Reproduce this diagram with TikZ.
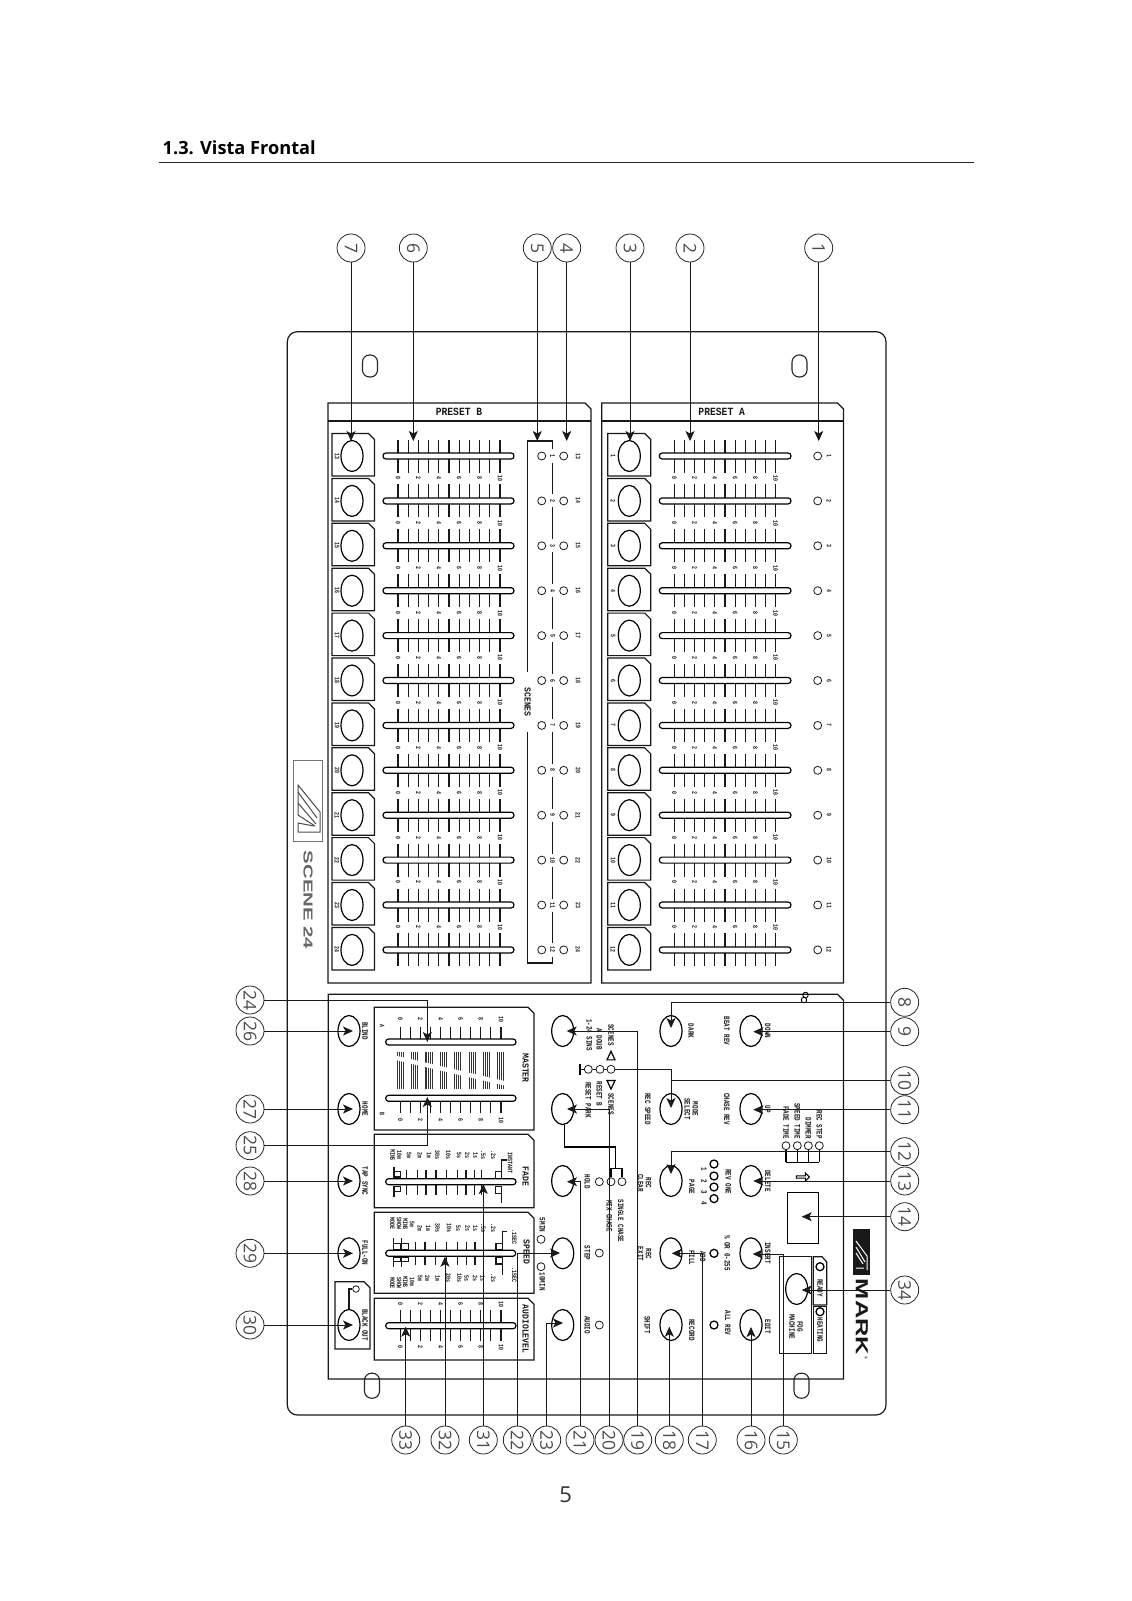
\documentclass[tikz,border=0pt]{standalone}
\usepackage{fontspec}
\usepackage{graphicx}
\usetikzlibrary{arrows.meta,shapes.geometric,shapes.arrows}
\setmainfont{Open Sans}
\newfontfamily\pf[FakeStretch=0.72]{Liberation Mono}
\newfontfamily\pfw[FakeStretch=0.88]{Liberation Mono}
\newfontfamily\numf{Open Sans}
\newfontfamily\logof{Liberation Sans}
\newcount\labcnt
\tikzset{
  lbl/.style={font=\pf\bfseries\fontsize{8.2}{8}\selectfont,rotate=-90,inner sep=0pt,align=center,text=black!90},
  tiny/.style={font=\pf\bfseries\fontsize{6.8}{6.6}\selectfont,rotate=-90,inner sep=0pt,align=center,text=black!90},
  hdr/.style={font=\pfw\bfseries\fontsize{9.2}{9}\selectfont,rotate=-90,inner sep=0pt,text=black!90},
  ttl/.style={font=\pfw\bfseries\fontsize{11}{11}\selectfont,inner sep=0pt,text=black!90},
  cnum/.style={circle,draw=black!85,line width=.8pt,minimum size=28pt,inner sep=0pt,font=\numf\fontsize{17.5}{17.5}\selectfont,text=black!70},
  btn/.style={ellipse,draw=black,line width=1.2pt,minimum width=22pt,minimum height=31pt,inner sep=0pt},
  led/.style={circle,draw=black!90,line width=.8pt,minimum size=8pt,inner sep=0pt},
  ledb/.style={circle,draw=black,line width=1.3pt,minimum size=8pt,inner sep=0pt},
  box/.style={draw=black!90,line width=1.2pt},
  ln/.style={draw=black!90,line width=1.1pt},
  conn/.style={draw=black!90,line width=.9pt,-{Stealth[length=10pt,width=9pt,inset=2.5pt]}},
}
\newcommand\lab[4][lbl]{\global\advance\labcnt by 1 \node[#1] (lab\the\labcnt) at (#2,#3) {#4};}
\newcommand\cutbox[5][box]{\draw[#1] (#2,#3) -- ({#4-6},#3) -- (#4,{#3+6}) -- (#4,#5) -- (#2,#5) -- cycle;}
\newcommand\slot[3]{\draw[draw=black,fill=white,line width=1.2pt,rounded corners=2.9pt] (#1,{#3-3}) rectangle (#2,{#3+3});}
\newcommand\slothole[3]{\draw[draw=black!85,line width=1.1pt,rounded corners=7pt] ({#1-7.5},{#2-#3}) rectangle ({#1+7.5},{#2+#3});}
\newcommand\crn[1]{\rotatebox{-90}{#1}}
\begin{document}
\begin{tikzpicture}[x=1pt,y=-1pt]
\useasboundingbox (0,0) rectangle (1132,1601);
\fill[white] (0,0) rectangle (1132,1601);
% heading
\node[anchor=base west,inner sep=0pt,font=\fontsize{18.2}{18.2}\selectfont\bfseries] (title) at (162.5,154) {1.3. Vista Frontal};
\draw[line width=1pt,black!85] (159,162.3) -- (974,162.3);
\node[inner sep=0pt,font=\fontsize{22}{22}\selectfont,text=black!80] (pageno) at (565.7,1495) {5};
% outer panel
\draw[box,rounded corners=10pt] (287.3,331.7) rectangle (886,1415);
\slothole{370}{366}{11}
\slothole{799.5}{366}{11}
\slothole{372}{1385.7}{12.5}
\slothole{801.5}{1385.7}{12.5}
% preset frames
\cutbox{328}{403}{591}{983}
\draw[box] (328,421) -- (591,421);
\cutbox{601.7}{403}{843.5}{983}
\draw[box] (601.7,421) -- (843.5,421);
\node[ttl] (presetb) at (459,412) {PRESET B};
\node[ttl] (preseta) at (721.7,412) {PRESET A};
% channel rows
\foreach \i in {1,...,12}{
  \pgfmathsetmacro{\y}{456+(\i-1)*44.9}
  \pgfmathtruncatemacro{\bn}{\i+12}
  % preset B
  \cutbox{332}{\y-22.5}{374.5}{\y+20}
  \node[btn] (bb\i) at (352,\y) {};
  \lab[tiny]{337}{\y}{\bn}
  % preset A
  \cutbox{607.7}{\y-22.5}{650.7}{\y+20}
  \node[btn] (ab\i) at (629.3,\y) {};
  \lab[tiny]{613}{\y}{\i}
  \foreach \t in {0,...,10}{
    \draw[ln] ({398+\t*10.2},{\y-16.5}) -- ({398+\t*10.2},{\y+16.5});
    \draw[ln] ({674.3+\t*10.14},{\y-16.5}) -- ({674.3+\t*10.14},{\y+16.5});
  }
  \slot{383}{514}{\y}
  \slot{659.3}{791}{\y}
  \ifnum\i<12
    \foreach \t in {0,2,4,6,8,10}{
      \lab[tiny]{398+\t*10.2}{\y+22.3}{\t}
      \lab[tiny]{674.3+\t*10.14}{\y+22.3}{\t}
    }
    \draw[ln] (552.7,{\y+6.5}) -- (552.7,{\y+38.4});
  \fi
  \node[led] (lb\i) at (541.7,\y) {};
  \node[led] (lc\i) at (563.7,\y) {};
  \node[led] (la\i) at (817.7,\y) {};
  \lab[tiny]{552.7}{\y}{\i}
  \lab[tiny]{578}{\y}{\bn}
  \lab[tiny]{829}{\y}{\i}
}
% scenes bracket
\draw[ln] (552.7,449) -- (552.7,441) -- (527.7,441) -- (527.7,672);
\draw[ln] (527.7,732) -- (527.7,963) -- (552.7,963) -- (552.7,956.5);
\lab[hdr]{527.7}{702}{SCENES}
% scene logo
\draw[line width=.8pt,black!55] (293.3,760) rectangle (322.7,841);
\draw[line width=1pt,black!70] (298,800) -- (298,785) -- (320,812) -- (320,832) -- (298,832) -- (298,823) -- (314,826);
\draw[line width=1pt,black!70] (298,792) -- (317,818) (298,800) -- (298,815) -- (315,826) (298,803) -- (316,824);
\node[rotate=-90,inner sep=0pt,font=\logof\bfseries\fontsize{13}{13}\selectfont,text=black!60] (scenelogo) at (308,900) {\scalebox{1.57}[1]{SCENE 24}};
% lower panel
\cutbox{328.3}{994.3}{843.5}{1379}
\node[circle,draw=black,line width=.9pt,minimum size=5.5pt,inner sep=0pt] (hole1) at (805.5,995) {};
\node[circle,draw=black,line width=.9pt,minimum size=5.5pt,inner sep=0pt] (hole2) at (804,1000) {};
% master
\cutbox{374.3}{1007.3}{534}{1130}
\foreach \t in {0,...,10}{
  \draw[ln] ({400.3+\t*10.07},1026.7) -- ({400.3+\t*10.07},1042);
  \draw[ln] ({400.3+\t*10.07},1098) -- ({400.3+\t*10.07},1113);
  \draw[ln] ({400.3+\t*10.07},1310) -- ({400.3+\t*10.07},1340.7);
}
\foreach \t in {0,2,4,6,8,10}{
  \lab[tiny]{400.3+\t*10.07}{1019.3}{\t}
  \lab[tiny]{400.3+\t*10.07}{1120}{\t}
  \lab[tiny]{400.3+\t*10.07}{1304}{\t}
  \lab[tiny]{400.3+\t*10.07}{1347.3}{\t}
}
\foreach \g in {0,...,7}{
  \foreach \s in {0,1,2,3}{
    \draw[line width=1.05pt,black!80] ({397.3+\g*14.35+\s*2.05},1052) -- ({397.3+\g*14.35+\s*2.05},1088.7);
  }
}
\draw[line width=4.4pt,white] (392,1057) -- (509,1084.3);
\slot{385.7}{516}{1042}
\slot{385.7}{516}{1098.3}
\lab[tiny]{382}{1025.7}{A}
\lab[tiny]{382}{1114}{B}
\lab[hdr]{525.7}{1068}{MASTER}
% fade
\cutbox{374.3}{1134.3}{534}{1207.7}
\foreach \x in {406.7,417.7,426,436,446.7,457.7,466,474.3,481.7}{
  \draw[ln] (\x,1170) -- (\x,1195);
}
\draw[ln] (394,1166.7) -- (394,1177) -- (400.7,1177) -- (400.7,1171.7) -- (394,1171.7);
\draw[ln] (394,1197.3) -- (394,1186.7) -- (400.7,1186.7) -- (400.7,1191.7) -- (394,1191.7);
\draw[ln] (495.7,1178.3) -- (495.7,1171.7) -- (501.7,1171.7) -- (501.7,1178.3) -- cycle (501.7,1171.7) -- (501.7,1160) -- (506.7,1160);
\draw[ln] (495.7,1186.7) -- (495.7,1193.3) -- (501.7,1193.3) -- (501.7,1186.7) -- cycle (501.7,1193.3) -- (501.7,1202.7);
\slot{385.7}{516}{1181.7}
\lab[tiny]{396}{1155}{10m\\MINS}
\foreach \x/\t in {409/5m,420/2m,429/1m,437.3/30s,448.3/10s,459/5s,467.3/2s,475.7/1s,483.3/.5s,493.3/.2s}{
  \lab[tiny]{\x}{1155}{\t}
}
\lab[tiny]{510}{1162.7}{INSTANT}
\lab[hdr]{525.7}{1176.7}{FADE}
% speed
\cutbox{374.3}{1212.3}{534}{1293.3}
\foreach \x in {415.7,425,435.7,446.7,457.3,466.7,475,483.3}{
  \draw[ln] (\x,1241.7) -- (\x,1265);
}
\foreach \x in {393.3,401.7}{
  \draw[ln] (\x,1238.3) -- (\x,1250) -- ({\x+7},1250) -- ({\x+7},1243.3) -- (\x,1243.3);
  \draw[ln] (\x,1266.7) -- (\x,1257.3) -- ({\x+7},1257.3) -- ({\x+7},1261.7) -- (\x,1261.7);
}
\draw[ln] (496,1250) -- (496,1243.3) -- (502.7,1243.3) -- (502.7,1250) -- cycle (502.7,1243.3) -- (502.7,1231.7) -- (507.3,1231.7);
\draw[ln] (496,1257.3) -- (496,1264) -- (502.7,1264) -- (502.7,1257.3) -- cycle (502.7,1264) -- (502.7,1275);
\slot{385.7}{515.7}{1253.3}
\lab[tiny]{395.7}{1223.3}{SHOW\\MODE}
\lab[tiny]{408.7}{1224}{5m\\MINS}
\foreach \x/\t in {420/2m,428.3/1m,437.7/30s,449/10s,458.3/5s,467.7/2s,475.3/1s,483.3/.5s,493.3/.2s}{
  \lab[tiny]{\x}{1228}{\t}
}
\lab[tiny]{395.7}{1283}{SHOW\\MODE}
\lab[tiny]{408.7}{1282}{10m\\MINS}
\foreach \x/\t in {420/5m,427.3/2m,437.7/1m,448.3/20s,459.3/10s,466.7/5s,475/2s,482.7/1s,493.3/.2s}{
  \lab[tiny]{\x}{1278.3}{\t}
}
\lab[tiny]{514.3}{1236.7}{.1SEC}
\lab[tiny]{514.3}{1275}{.1SEC}
\lab[hdr]{526.7}{1252}{SPEED}
\lab[lbl]{542.3}{1225}{5MIN}
\lab[lbl]{542.3}{1281.7}{10MIN}
\node[led] (l5min) at (541,1239.3) {};
\node[led] (l10min) at (541,1266.7) {};
% audio
\cutbox{374.3}{1298.3}{534}{1360}
\slot{385.7}{516}{1325.7}
\lab[hdr]{525.7}{1329}{AUDIOLEVEL}
% blackout
\cutbox{335}{1281.7}{370}{1349}
\node[circle,draw=black!90,line width=.8pt,minimum size=6.6pt,inner sep=0pt] (lblack) at (356,1289) {};
% buttons
\foreach \n/\y in {blind/1031,home/1109,tap/1181,full/1253.3,black/1325}{
  \node[btn] (L\n) at (349,\y) {};
}
\foreach \n/\y in {a/1031,b/1109,c/1181,d/1253.3,e/1325}{
  \node[btn] (M\n) at (562.7,\y) {};
  \node[btn] (R\n) at (671,\y) {};
  \node[btn] (S\n) at (751,\y) {};
}
\draw[ln] (Lblack.north) -- (349,1289) -- (lblack.west);
\lab[lbl]{365}{1031}{BLIND}
\lab[lbl]{365}{1109}{HOME}
\lab[lbl]{365}{1181}{TAP SYNC}
\lab[lbl]{365}{1253}{FULL-ON}
\lab[lbl]{365}{1325}{BLACK OUT}
% middle labels
\lab[lbl]{611}{1035}{SCENES}
\lab[lbl]{599.3}{1039}{A DOUB}
\lab[lbl]{589.3}{1035}{1-24 SINS}
\lab[lbl]{611}{1104}{SCENES}
\lab[lbl]{599.3}{1094}{RESET B}
\lab[lbl]{588.3}{1100}{RESET PARK}
\node[isosceles triangle,isosceles triangle apex angle=50,shape border rotate=90,draw=black,line width=1.2pt,minimum size=8pt,inner sep=0pt] (triu) at (611,1057.3) {};
\node[isosceles triangle,isosceles triangle apex angle=50,shape border rotate=-90,draw=black,line width=1.2pt,minimum size=8pt,inner sep=0pt] (trid) at (611,1083) {};
\node[led] (tr1) at (588.3,1069.3) {};
\node[led] (tr2) at (600,1069.3) {};
\node[led] (tr3) at (611,1069.3) {};
\draw[ln] (tr1) -- (tr2) (tr2) -- (tr3);
\draw[line width=1.2pt] (tr1.west) -- (580,1069.3) (580,1064) -- (580,1074.5);
\lab[lbl]{587.3}{1181.7}{HOLD}
\lab[lbl]{587.3}{1253}{STEP}
\lab[lbl]{587.3}{1325}{AUDIO}
\node[led] (h1) at (599.3,1181.7) {};
\node[led] (h2) at (611,1181.7) {};
\node[led] (h3) at (622,1181.7) {};
\node[led] (st) at (599.3,1253) {};
\node[led] (au) at (599.3,1325) {};
\draw[line width=1.3pt] (Mb.south) ++(2,0) -- ++(0,22) -| (615.7,1168.3);
\draw[line width=1.3pt] (h2.north) |- (615.7,1168.3) -| (h3.north);
\lab[lbl]{620.7}{1221}{SINGLE CHASE}
\lab[lbl]{609.3}{1216}{MIX CHASE}
% right labels
\lab[lbl]{647.7}{1109}{REC SPEED}
\lab[lbl]{691}{1031}{DARK}
\lab[lbl]{726.7}{1031}{BEAT REV}
\lab[lbl]{691.3}{1109}{MODE\\SELECT}
\lab[lbl]{726.7}{1109}{CHASE REV}
\lab[lbl]{767.7}{1031}{DOWN}
\lab[lbl]{767.7}{1109}{UP}
\lab[lbl]{644.5}{1183}{REC\\CLEAR}
\lab[lbl]{691.7}{1187}{PAGE}
\foreach \y/\t/\k in {1164/1/1,1176/2/2,1187/3/3,1198.6/4/4}{
  \node[ledb] (pg\k) at (714,\y) {};
  \lab[lbl]{704}{\y+5}{\t}
}
\lab[lbl]{728.3}{1181.7}{REV ONE}
\lab[lbl]{767.7}{1181}{DELETE}
\lab[lbl]{644.5}{1254}{REC\\EXIT}
\lab[lbl]{691.7}{1258}{FILL}
\lab[lbl]{702.7}{1256.7}{ADD}
\node[ledb] (ladd) at (714,1253.3) {};
\lab[lbl]{727.3}{1253}{\% OR 0-255}
\lab[lbl]{767.7}{1253}{INSERT}
\lab[lbl]{647.3}{1325}{SHIFT}
\lab[lbl]{691.7}{1330}{RECORD}
\node[ledb] (lall) at (714,1325) {};
\lab[lbl]{727.7}{1323}{ALL REV}
\lab[lbl]{767.7}{1326.7}{EDIT}
% mode leds
\foreach \x/\t/\k in {786/FADE TIME/1,797.3/SPEED TIME/2,808.3/DIMMER/3,819.3/REC STEP/4}{
  \node[led] (md\k) at (\x,1145.7) {};
  \draw[line width=1.3pt] (md\k.south) -- (\x,1162.3);
  \node[lbl,anchor=east] (mdl\k) at (\x,1139) {\t};
}
\draw[line width=1.3pt] (786,1162.3) -- (819.3,1162.3);
\node[draw=black,line width=1.1pt,single arrow,single arrow head extend=1.5pt,single arrow tip angle=90,shape border rotate=-90,minimum width=8pt,minimum height=13pt,inner sep=0pt] (disparrow) at (802.3,1177) {};
% display
\draw[line width=1.5pt] (787.3,1192.3) rectangle (818.7,1243.3);
% fog machine
\draw[box] (779.3,1256.7) rectangle (811.7,1353.3);
\draw[box] (813.3,1256.7) -- (822,1256.7) -- (826.7,1262) -- (826.7,1305) -- (813.3,1305) -- cycle;
\draw[box] (813.3,1306.7) rectangle (826.7,1353.3);
\node[btn] (fog) at (796.7,1289) {};
\node[ledb] (lready) at (820,1266.7) {};
\node[ledb] (lheat) at (820,1311.7) {};
\lab[lbl]{820}{1288}{READY}
\lab[lbl]{820}{1330}{HEATING}
\lab[lbl]{796}{1326.7}{FOG\\MACHINE}
% mark logo
\fill[black!90] (853.3,1229.3) rectangle (870,1275);
\draw[white,line width=1pt] (856,1241) -- (867,1256) -- (867,1270) (856,1247) -- (865,1262) (856,1253) -- (863,1264) (856,1268) -- (864,1268);
\node[rotate=-90,inner sep=0pt,font=\logof\bfseries\fontsize{17.5}{17.5}\selectfont,text=black!90] (marklogo) at (862,1317) {\scalebox{1.45}[1]{MARK}};
\node[rotate=-90,inner sep=0pt,font=\logof\fontsize{4}{4}\selectfont] (markr) at (866,1358) {®};
% numbered circles
\foreach \n/\x in {7/351,6/413.3,5/537.3,4/566.7,3/630,2/690,1/818.7}{
  \node[cnum] (c\n) at (\x,248) {\crn{\n}};
  \coordinate (t\n) at (\x,441);
  \draw[conn] (c\n) -- (t\n);
}
\foreach \n/\y in {24/1000,26/1031,27/1109,25/1145.7,28/1181,29/1253.3,30/1325}{
  \node[cnum] (c\n) at (250,\y) {\crn{\n}};
}
\foreach \n/\x in {33/405.7,32/445,31/483.3,22/517.3,23/546.7,21/580,20/609,19/637.7,18/669.3,17/702.3,16/751,15/783.3}{
  \node[cnum] (c\n) at (\x,1440) {\crn{\n}};
}
\foreach \n/\y in {8/1002.3,9/1031.7,10/1080.7,11/1109.7,12/1151.7,13/1181,14/1216.7,34/1290}{
  \node[cnum] (c\n) at (904.7,\y) {\crn{\n}};
}
% connectors: left
\coordinate (t24) at (427.3,1042);
\coordinate (t25) at (427.3,1097);
\draw[conn] (c24.east) -| (t24);
\draw[conn] (c25.east) -| (t25);
\foreach \n/\b/\y in {26/blind/1031,27/home/1109,28/tap/1181,29/full/1253.3,30/black/1325}{
  \coordinate (t\n) at (353,\y);
  \draw[conn] (c\n) -- (t\n);
}
% connectors: bottom
\coordinate (t33) at (405.7,1326.7);
\coordinate (t32) at (445,1256.7);
\coordinate (t31) at (483.3,1184);
\coordinate (t18) at (669.3,1326.7);
\coordinate (t16) at (751,1327);
\foreach \n in {33,32,31,18,16}{
  \draw[conn] (c\n) -- (t\n);
}
\coordinate (t22) at (560,1253);
\coordinate (t23) at (563,1323);
\coordinate (t21) at (567,1181.7);
\coordinate (t20) at (567,1109);
\coordinate (t19) at (566.7,1031);
\coordinate (t17) at (671.7,1253.3);
\coordinate (t15) at (752.7,1254);
\foreach \n in {22,23,21,20,19,17,15}{
  \draw[conn] (c\n.north) |- (t\n);
}
% connectors: right
\coordinate (t8) at (671,1028);
\coordinate (t10) at (671,1108);
\coordinate (t12) at (671,1174);
\foreach \n in {8,10,12}{
  \draw[conn] (c\n.west) -| (t\n);
}
\draw[line width=.9pt,black!90] (tr3.east) -| (671,1080.7);
\coordinate (t9) at (753.3,1031.7);
\coordinate (t11) at (753.3,1109.7);
\coordinate (t13) at (753.3,1181);
\coordinate (t14) at (801.7,1216.7);
\coordinate (t34) at (801.7,1290);
\foreach \n in {9,11,13,14,34}{
  \draw[conn] (c\n) -- (t\n);
}
\end{tikzpicture}
\end{document}
